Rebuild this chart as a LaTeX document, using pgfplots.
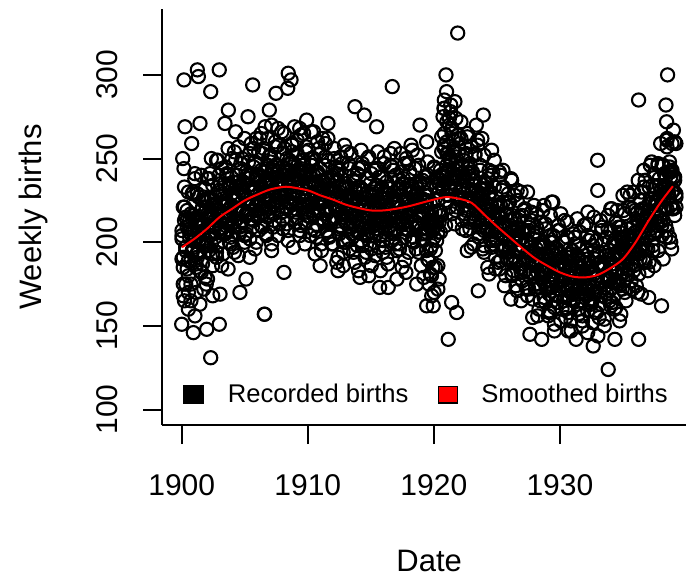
\documentclass[border=0pt]{standalone}
\usepackage{pgfplots}
\usepackage{pgfplotstable}
\pgfplotsset{compat=1.18}
\usepackage{fontspec}
\setmainfont{Liberation Sans}

\pgfplotstableread{
x a b c d
1900.02 207 190 204 202
1900.12 175 221 185 191
1900.22 233 165 221 213
1900.32 197 215 195 197
1900.43 219 184 213 209
1900.53 170 230 180 189
1900.63 213 206 203 208
1900.73 189 175 217 205
1900.83 229 214 194 195
1900.93 197 201 230 216
1901.04 241 238 202 201
1901.14 185 187 210 213
1901.24 206 229 191 193
1901.34 214 195 227 212
1901.45 183 213 202 210
1901.55 240 182 219 199
1901.65 205 225 187 221
1901.75 227 200 210 206
1901.85 179 232 225 218
1901.95 221 175 201 198
1902.05 198 226 238 217
1902.15 238 195 210 215
1902.25 206 241 217 204
1902.35 250 217 199 226
1902.46 193 186 234 210
1902.56 215 225 209 222
1902.66 223 213 227 203
1902.76 191 249 194 221
1902.86 249 198 217 219
1902.96 213 240 231 208
1903.07 235 206 208 230
1903.17 186 223 244 214
1903.27 229 193 216 226
1903.37 205 235 223 206
1903.48 245 210 205 225
1903.58 213 241 240 222
1903.68 256 184 214 211
1903.78 200 235 232 233
1903.88 221 203 199 217
1903.98 229 250 222 229
1904.08 197 225 236 209
1904.18 254 194 212 227
1904.28 219 233 249 225
1904.38 240 220 220 214
1904.49 192 257 228 236
1904.59 234 205 209 220
1904.69 210 247 244 231
1904.79 250 213 219 212
1904.89 218 230 236 230
1904.99 262 200 204 228
1905.10 205 242 226 217
1905.20 226 216 240 238
1905.30 234 248 217 223
1905.40 202 191 253 234
1905.51 259 241 224 214
1905.61 223 209 231 232
1905.71 245 256 213 230
1905.81 196 231 248 219
1905.91 238 200 222 240
1906.01 215 239 240 225
1906.11 254 226 207 236
1906.21 222 262 229 216
1906.31 265 210 243 234
1906.41 209 253 220 232
1906.52 230 218 256 221
1906.62 237 235 227 242
1906.72 205 204 234 226
1906.82 262 246 215 237
1906.92 227 221 251 218
1907.02 248 252 225 236
1907.13 199 195 242 233
1907.23 241 245 209 222
1907.33 217 213 231 243
1907.43 257 260 246 228
1907.54 225 235 222 239
1907.64 268 204 258 219
1907.74 211 242 229 237
1907.84 232 229 236 234
1907.94 240 266 218 224
1908.04 208 214 253 245
1908.14 265 256 227 229
1908.24 229 221 244 240
1908.34 250 238 211 220
1908.44 201 207 233 238
1908.55 243 249 247 235
1908.65 219 223 223 224
1908.75 258 254 259 245
1908.85 226 197 230 229
1908.95 269 247 237 240
1909.05 212 215 218 220
1909.16 233 261 253 238
1909.26 240 236 227 235
1909.36 207 204 243 223
1909.46 264 242 210 244
1909.57 228 229 232 228
1909.67 249 265 246 239
1909.77 199 212 221 218
1909.87 241 254 257 236
1909.97 216 218 227 232
1910.07 255 235 234 221
1910.17 223 204 215 242
1910.27 266 246 250 226
1910.37 208 219 223 236
1910.47 229 250 240 216
1910.58 236 193 207 234
1910.68 203 242 228 230
1910.78 260 210 242 219
1910.88 224 256 218 240
1910.98 244 230 253 223
1911.08 195 199 224 234
1911.19 237 237 231 214
1911.29 213 224 212 232
1911.39 251 259 246 228
1911.49 219 207 220 217
1911.60 262 249 237 238
1911.70 204 213 203 221
1911.80 225 230 225 232
1911.90 232 199 239 212
1912.00 199 240 214 229
1912.10 256 214 250 226
1912.20 220 245 221 215
1912.30 241 188 228 236
1912.40 191 237 208 219
1912.50 233 205 243 230
1912.61 209 251 217 210
1912.71 247 225 233 227
1912.81 215 194 200 224
1912.91 258 232 222 213
1913.01 200 218 235 233
1913.11 221 254 211 217
1913.22 228 202 247 228
1913.32 196 244 218 208
1913.42 253 209 225 226
1913.52 216 225 205 222
1913.63 237 194 240 211
1913.73 188 236 214 232
1913.83 230 210 231 216
1913.93 206 241 198 227
1914.03 244 183 219 206
1914.13 212 233 233 224
1914.23 255 201 209 221
1914.33 198 247 245 210
1914.43 219 222 216 231
1914.53 226 191 223 215
1914.64 194 229 204 226
1914.74 250 215 238 205
1914.84 214 251 212 223
1914.94 235 199 229 220
1915.04 186 241 196 209
1915.14 228 206 218 230
1915.25 204 223 232 214
1915.35 243 192 208 225
1915.45 211 234 244 205
1915.55 254 208 215 223
1915.66 197 239 222 220
1915.76 219 183 204 210
1915.86 226 233 239 231
1915.96 194 201 213 215
1916.06 251 247 230 226
1916.16 215 222 197 206
1916.26 236 191 219 224
1916.36 187 229 233 221
1916.46 229 216 209 210
1916.56 206 253 246 232
1916.67 245 201 217 216
1916.77 213 243 224 227
1916.87 256 208 205 207
1916.97 199 225 240 225
1917.07 221 195 215 223
1917.17 228 237 232 212
1917.28 196 211 199 233
1917.38 253 242 221 217
1917.48 217 185 235 228
1917.58 238 235 211 208
1917.69 189 203 247 226
1917.79 232 250 219 224
1917.89 208 225 226 213
1917.99 247 194 207 234
1918.09 215 232 242 218
1918.19 258 219 216 229
1918.29 201 255 233 209
1918.39 222 203 200 227
1918.49 228 244 221 223
1918.59 196 209 235 212
1918.70 252 225 210 232
1918.80 216 194 246 216
1918.90 236 235 216 226
1919.00 186 208 222 205
1919.10 226 237 201 221
1919.20 201 179 235 217
1919.31 239 228 208 205
1919.41 206 195 224 225
1919.51 248 240 190 208
1919.61 189 213 210 217
1919.72 209 181 223 196
1919.82 215 218 198 213
1919.92 185 207 236 212
1920.02 244 245 209 203
1920.12 210 195 218 226
1920.22 233 239 201 212
1920.32 186 206 238 225
1920.42 235 230 219 212
1920.52 218 206 243 237
1920.62 263 254 216 240
1920.73 234 231 241 232
1920.83 280 265 258 256
1920.93 225 210 236 242
1921.03 246 260 272 253
1921.13 253 228 243 233
1921.23 221 274 250 251
1921.34 278 249 231 248
1921.44 241 217 265 236
1921.54 261 254 238 256
1921.64 211 240 254 239
1921.75 251 274 219 248
1921.85 226 221 240 227
1921.95 264 262 253 244
1922.05 230 225 227 239
1922.15 272 241 262 227
1922.25 213 208 231 246
1922.35 233 249 237 229
1922.45 239 222 217 239
1922.55 207 253 252 219
1922.65 263 195 225 236
1922.76 226 244 241 232
1922.86 247 212 208 221
1922.96 197 257 229 241
1923.06 238 231 242 224
1923.16 213 199 217 234
1923.26 252 237 253 214
1923.37 219 223 223 231
1923.47 261 258 229 227
1923.57 203 205 209 215
1923.67 223 246 243 235
1923.78 229 210 216 218
1923.88 196 226 232 228
1923.98 252 194 198 207
1924.08 215 235 219 224
1924.18 235 208 232 220
1924.28 185 238 207 208
1924.38 227 181 243 229
1924.48 202 230 213 212
1924.58 240 197 219 222
1924.68 207 242 199 201
1924.79 249 216 233 218
1924.89 191 184 206 214
1924.99 211 221 222 202
1925.09 217 207 188 222
1925.19 184 242 209 205
1925.29 240 189 222 215
1925.40 204 231 198 195
1925.50 224 195 233 212
1925.60 174 211 203 208
1925.70 216 180 210 197
1925.81 191 221 190 217
1925.91 229 194 224 200
1926.01 196 224 197 210
1926.11 238 166 213 189
1926.21 181 216 180 207
1926.31 201 183 201 203
1926.41 207 228 214 191
1926.51 174 202 189 211
1926.61 231 171 225 195
1926.71 194 208 195 205
1926.82 215 195 202 185
1926.92 165 230 182 202
1927.02 206 177 216 198
1927.12 182 219 190 187
1927.22 220 183 206 207
1927.32 188 200 173 191
1927.43 230 168 194 201
1927.53 172 209 207 180
1927.63 192 182 182 197
1927.73 199 213 218 194
1927.84 166 155 188 182
1927.94 222 204 194 202
1928.04 186 172 175 186
1928.14 206 217 209 196
1928.24 156 191 182 175
1928.34 198 160 199 193
1928.44 173 197 165 189
1928.54 212 184 187 178
1928.64 179 219 200 198
1928.74 222 167 176 182
1928.85 164 208 211 192
1928.95 185 173 182 172
1929.05 192 190 189 190
1929.15 159 158 169 186
1929.25 216 200 204 175
1929.35 179 173 177 195
1929.46 200 204 194 179
1929.56 151 147 161 190
1929.66 192 196 182 169
1929.76 168 164 196 187
1929.87 207 210 172 184
1929.97 174 184 207 172
1930.07 217 153 178 193
1930.17 160 191 185 177
1930.27 180 177 165 187
1930.37 187 213 200 167
1930.47 155 161 174 185
1930.57 212 203 191 182
1930.67 176 168 158 171
1930.77 196 184 179 191
1930.88 147 153 193 175
1930.98 189 195 169 186
1931.08 165 169 205 166
1931.18 203 199 175 183
1931.28 171 142 182 180
1931.38 214 192 163 169
1931.49 157 160 198 190
1931.59 178 206 172 174
1931.69 185 181 189 185
1931.79 153 150 156 165
1931.90 210 188 178 183
1932.00 174 175 192 180
1932.10 195 211 168 169
1932.20 146 159 204 190
1932.30 188 201 175 174
1932.40 164 166 182 185
1932.50 203 183 163 165
1932.60 171 152 198 183
1932.70 215 195 173 181
1932.80 158 169 190 170
1932.91 180 201 158 192
1933.01 187 144 180 176
1933.11 155 194 194 187
1933.21 213 163 171 168
1933.31 177 209 207 186
1933.41 199 185 179 184
1933.52 150 154 186 173
1933.62 192 192 167 194
1933.72 169 180 203 179
1933.82 208 216 177 190
1933.93 177 165 195 171
1934.03 220 207 162 189
1934.13 164 173 185 187
1934.23 185 190 199 176
1934.33 193 160 176 198
1934.43 161 202 212 182
1934.53 219 177 184 194
1934.63 184 209 192 175
1934.73 206 153 174 194
1934.83 157 203 209 191
1934.94 200 172 184 181
1935.04 177 219 202 203
1935.14 217 195 170 188
1935.24 186 165 193 200
1935.34 230 204 208 181
1935.44 173 191 184 199
1935.55 195 228 221 197
1935.65 203 177 193 187
1935.75 172 220 201 209
1935.85 230 186 183 194
1935.96 195 204 219 206
1936.06 217 174 194 187
1936.16 170 218 213 207
1936.26 213 193 181 205
1936.36 190 225 204 195
1936.46 230 169 219 217
1936.56 199 220 196 202
1936.66 243 189 233 214
1936.76 188 237 206 196
1936.86 210 213 214 215
1936.97 218 183 196 213
1937.07 188 223 233 204
1937.17 246 211 208 226
1937.27 211 248 226 211
1937.37 234 198 195 224
1937.47 186 241 218 205
1937.58 229 207 233 224
1937.68 206 225 210 222
1937.78 246 195 247 212
1937.88 215 238 219 234
1937.99 259 213 227 219
1938.09 204 246 210 232
1938.19 226 190 246 213
1938.29 234 241 221 232
1938.39 203 210 239 230
1938.49 261 257 207 220
1938.59 226 233 230 242
1938.69 248 203 245 227
1938.79 200 242 222 239
1938.89 243 230 259 220
1939.00 220 267 231 239
1939.10 260 216 239 237
1939.20 229 259 221 227
}\births

\pgfplotstableread{
x y
1900.18 297
1901.24 303
1901.32 299
1902.98 303
1902.30 290
1905.63 294
1903.70 279
1908.45 301
1908.67 297
1908.41 292
1907.48 289
1906.95 279
1916.70 293
1913.74 281
1914.48 276
1915.46 269
1900.26 269
1900.79 259
1900.08 250
1900.18 244
1901.45 271
1903.43 271
1905.26 275
1906.61 269
1911.60 271
1909.91 273
1921.89 325
1920.96 300
1921.01 290
1920.80 280
1921.67 284
1923.92 276
1923.81 262
1925.48 243
1926.17 237
1929.34 224
1932.99 249
1933.00 231
1936.24 285
1938.54 300
1938.41 282
1938.46 272
1938.50 262
1936.21 237
1935.00 228
1918.90 270
1919.43 260
1906.55 157
1906.58 157
1902.30 131
1900.92 146
1900.00 151
1901.98 148
1902.98 151
1901.05 156
1904.62 170
1908.11 182
1916.38 173
1915.70 173
1914.14 179
1912.82 186
1918.64 175
1919.43 162
1905.10 178
1903.04 169
1921.14 142
1921.81 158
1921.41 164
1919.95 162
1919.83 168
1923.52 171
1927.62 145
1928.55 142
1929.07 156
1930.66 147
1932.64 138
1933.83 124
1934.36 142
1936.24 142
1937.04 167
1938.06 162
1938.86 196
1929.44 224
1932.22 218
1934.10 220
1900.12 168
1900.32 175
1900.53 160
1900.73 165
1901.14 170
1901.44 163
1901.75 172
1902.05 178
1902.46 168
1919.61 175
1919.81 180
1920.02 170
1920.12 185
1920.32 172
1920.42 178
1920.73 275
1920.83 285
1921.24 270
1921.34 282
1921.44 268
1904.28 266
1905.91 262
1907.13 270
1909.36 268
1910.47 266
1911.18 262
1910.98 186
1912.40 183
1914.84 180
1917.07 178
1917.78 182
1922.66 265
1923.37 270
1924.58 255
}\outl

\pgfplotstableread{
x y
1900.02 197
1901 202
1902 208
1903 215
1904 220
1905 225
1906 228.5
1907 231.5
1908 233
1908.6 233
1910 231
1911 228
1912 225.5
1913 222.5
1914 220.5
1915 219
1916 219
1917 220
1918 221.5
1919 223.5
1920 225.5
1921 227
1922 226
1923 223.5
1924 216.5
1925 209.5
1926 203
1927 196.5
1928 190.5
1929 186
1930 182
1931 179.5
1932 179
1933 180.5
1934 184.5
1935 190
1936 200
1937 212.5
1938 224
1938.96 233.5
}\smoothed

\begin{document}
\begin{tikzpicture}
\begin{axis}[
  at={(0pt,0pt)}, anchor=south west,
  width=261.85pt, height=207.85pt, scale only axis,
  xmin=1898.46, xmax=1940.0,
  ymin=90.8, ymax=339.2,
  clip marker paths=true,
  axis x line*=bottom, axis y line*=left,
  axis line style={-, line width=1pt, black},
  xtick={1900,1910,1920,1930},
  ytick={100,150,200,250,300},
  minor tick num=0,
  tick align=outside,
  major tick length=9.6pt,
  tick style={line width=1pt, black},
  /pgf/number format/assume math mode=true,
  /pgf/number format/1000 sep={},
  tick label style={font=\fontsize{15}{18}\selectfont},
  yticklabel style={xshift=-12.55pt, rotate=90, anchor=south, inner sep=0pt},
  xticklabel style={anchor=base, inner sep=0pt, yshift=-25.4pt},
  xlabel={Date},
  ylabel={Weekly births},
  xlabel style={at={(axis description cs:0.5097,-0.3529)}, anchor=base, inner sep=0pt, font=\fontsize{15.5}{18}\selectfont},
  ylabel style={at={(axis description cs:-0.2307,0.5)}, anchor=base, inner sep=0pt, rotate=0, font=\fontsize{15.5}{18}\selectfont},
  legend columns=2,
  legend cell align=left,
  legend style={at={(0.0401,0.0729)}, anchor=west, draw=none, fill=none,
    inner sep=0pt, outer sep=0pt,
    font=\fontsize{12.8}{15}\selectfont,
    nodes={inner sep=0pt},
    /tikz/every odd column/.append style={column sep=11.7pt},
    /tikz/every even column/.append style={column sep=14.5pt}},
  scatterstyle/.style={only marks, mark=o, mark size=3.3pt, black, line width=1.05pt,
    mark options={line width=1.05pt, draw=black}},
]
\addplot[scatterstyle,
  legend image code/.code={\fill[black] (0pt,-4.15pt) rectangle (9.5pt,4.15pt);}]
  table[x=x, y=a] {\births};
\addlegendentry{Recorded births}
\addplot[scatterstyle, forget plot] table[x=x, y=b] {\births};
\addplot[scatterstyle, forget plot] table[x=x, y=c] {\births};
\addplot[scatterstyle, forget plot] table[x=x, y=d] {\births};
\addplot[scatterstyle, forget plot] table[x=x, y=y] {\outl};
\addplot[red, line width=1pt, mark=none, smooth, tension=0.5,
  legend image code/.code={\filldraw[fill=red, draw=black, line width=0.7pt] (0pt,-4.15pt) rectangle (9.5pt,4.15pt);}]
  table[x=x, y=y] {\smoothed};
\addlegendentry{Smoothed births}
\end{axis}
\pgfresetboundingbox
\useasboundingbox (-81.15pt,-77pt) rectangle (261.85pt,212.5pt);
\end{tikzpicture}
\end{document}
